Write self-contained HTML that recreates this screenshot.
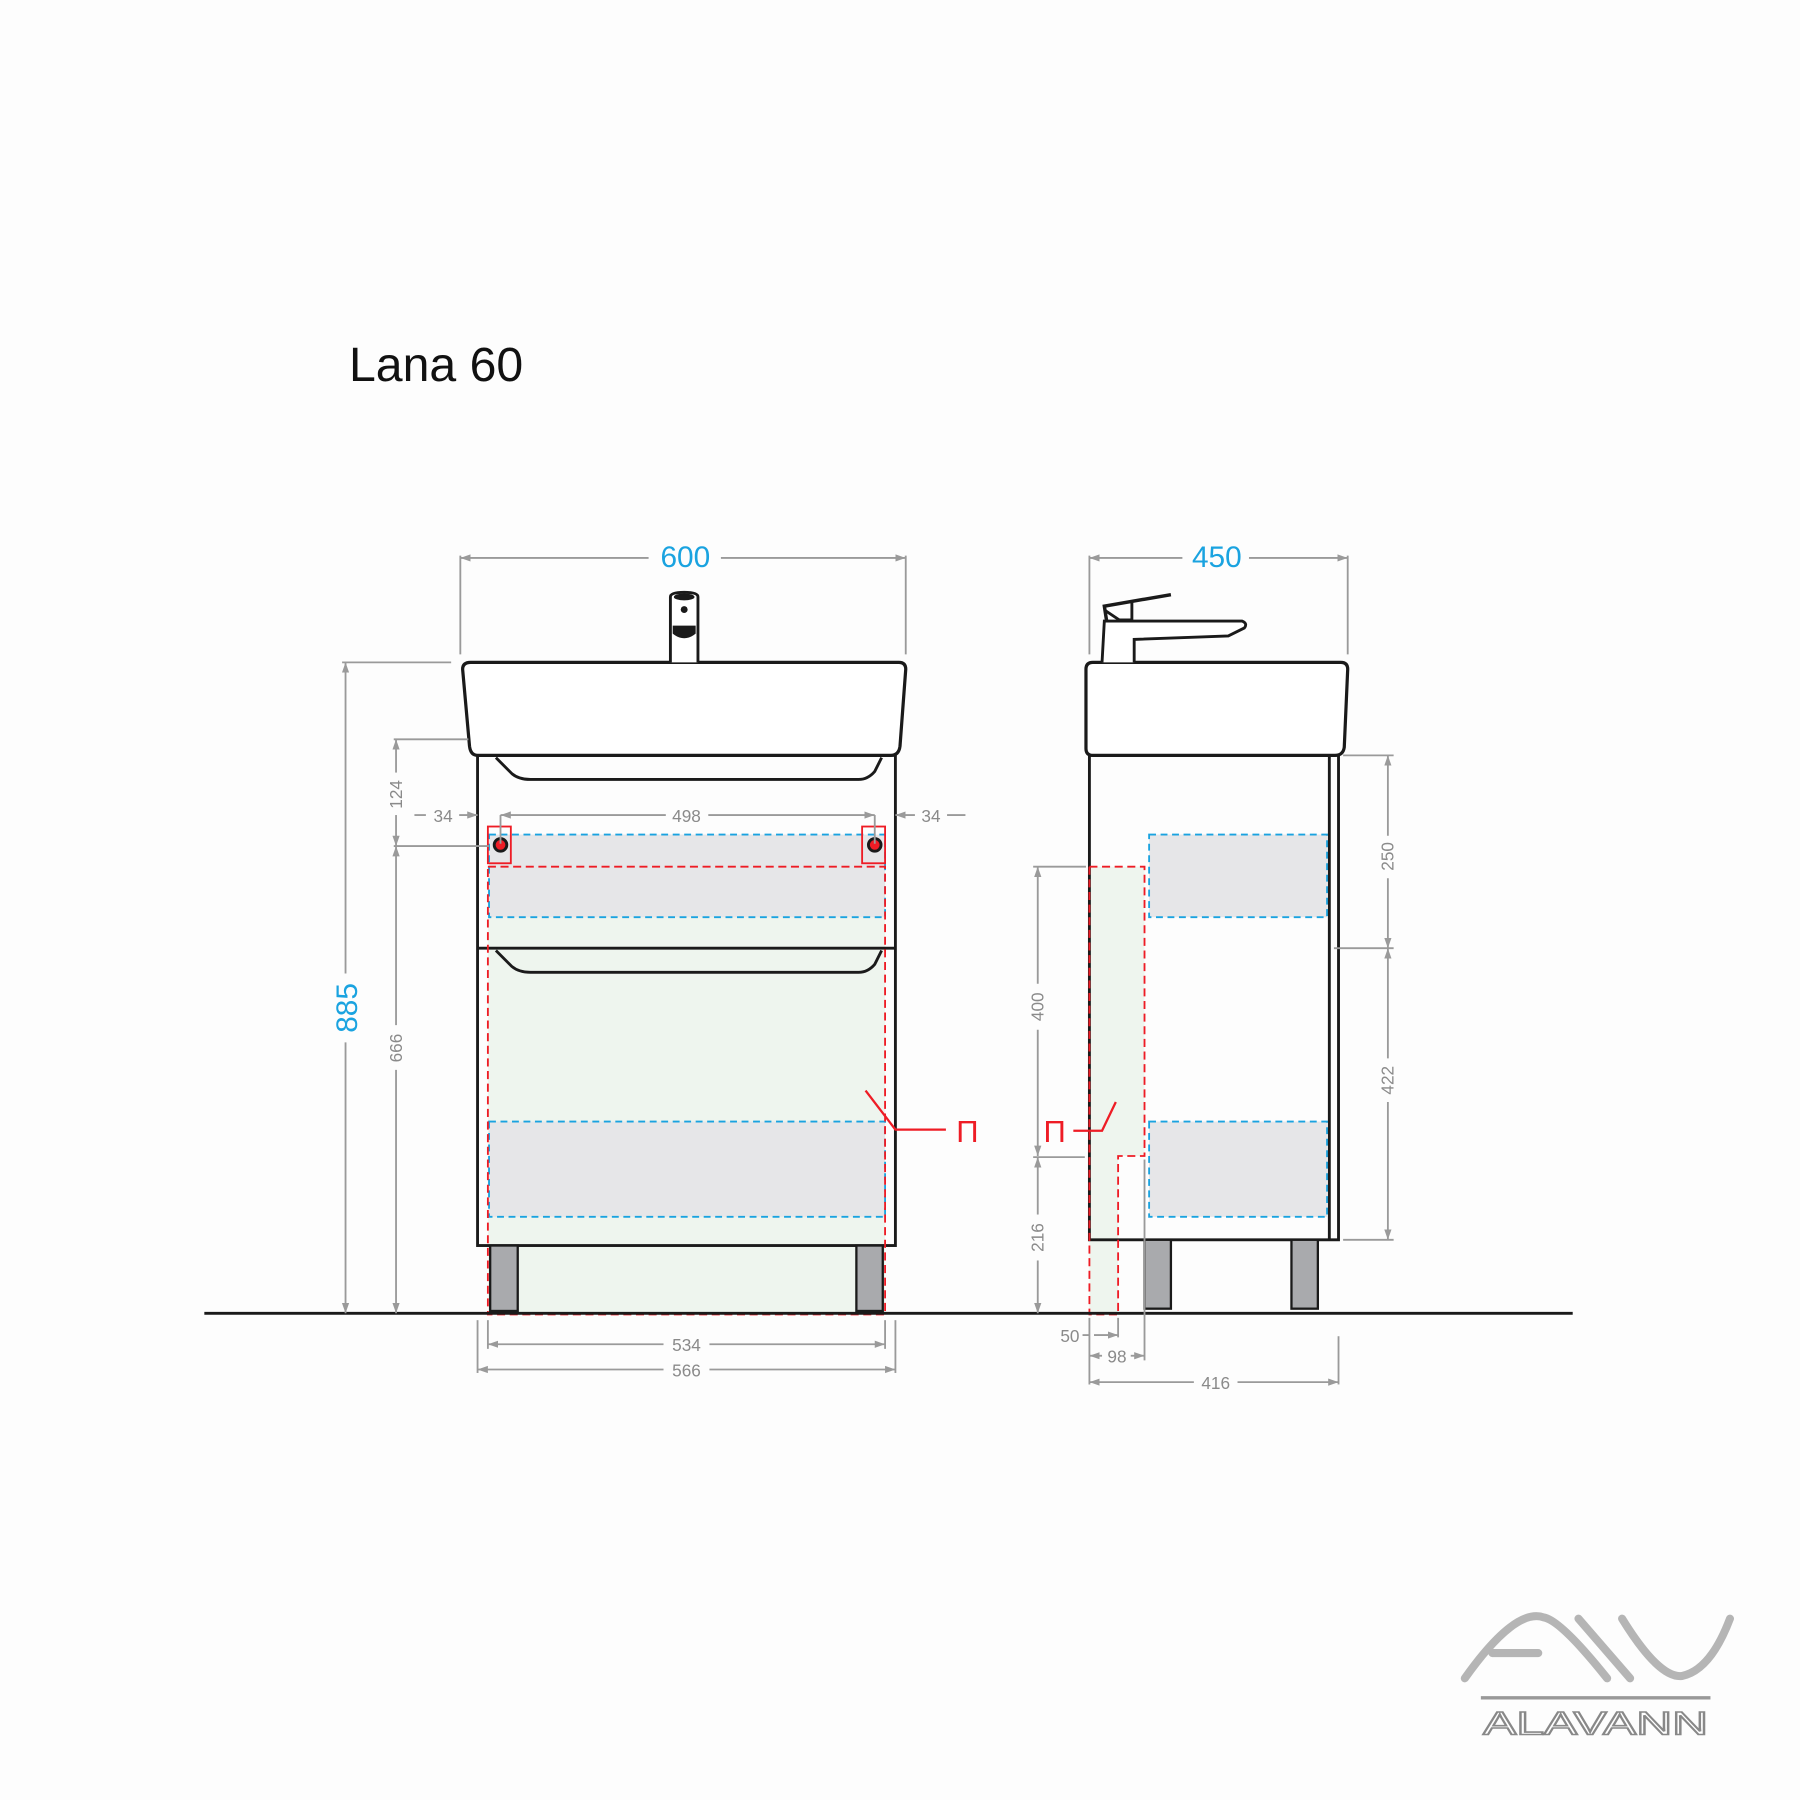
<!DOCTYPE html>
<html><head><meta charset="utf-8"><style>
html,body{margin:0;padding:0;background:#fdfdfd}
svg{display:block}
text{font-family:"Liberation Sans",sans-serif}
</style></head><body>
<svg width="1800" height="1800" viewBox="0 0 1568 1568" xmlns="http://www.w3.org/2000/svg">
<defs>
<marker id="a" viewBox="0 0 10 10" refX="10" refY="5" markerWidth="9" markerHeight="9" orient="auto-start-reverse" markerUnits="userSpaceOnUse"><path d="M0,1.5 L10,5 L0,8.5 z" fill="#9a9a9a"/></marker>
</defs>
<rect width="1568" height="1568" fill="#fdfdfd"/>
<text x="304" y="332" font-size="42" fill="#111">Lana 60</text>

<rect x="425" y="755" width="346" height="390" fill="#eef5ee"/>
<rect x="426" y="727" width="345" height="72" fill="#e6e6e8"/>
<rect x="426" y="977" width="345" height="83" fill="#e6e6e8"/>
<rect x="416" y="658" width="364" height="427" fill="none" stroke="#1a1a1a" stroke-width="2.5"/>
<line x1="416" y1="826" x2="780" y2="826" stroke="#1a1a1a" stroke-width="2.5"/>
<path d="M432,660 L446,674 Q452,679 462,679 L748,679 Q756,679 762,672 L768,660" fill="none" stroke="#1a1a1a" stroke-width="2.5"/>
<path d="M432,828 L446,842 Q452,847 462,847 L748,847 Q756,847 762,840 L768,828" fill="none" stroke="#1a1a1a" stroke-width="2.5"/>
<path d="M410,577 L783,577 Q789,577 789,583 L784,650 Q783,658 776,658 L416,658 Q410,658 409,650 L403,583 Q403,577 410,577 z" fill="#fff" stroke="#1a1a1a" stroke-width="2.8"/>
<path d="M584,577 L584,520 Q584,516 596,516 Q608,516 608,520 L608,577" fill="#fff" stroke="#1a1a1a" stroke-width="2.5"/>
<ellipse cx="596" cy="520" rx="9" ry="3" fill="#1a1a1a"/>
<circle cx="596" cy="531" r="3" fill="#1a1a1a"/>
<path d="M586,545 L606,545 L606,552 Q596,560 586,552 z" fill="#1a1a1a"/>
<rect x="427" y="1085" width="24" height="57" fill="#a9aaad" stroke="#1a1a1a" stroke-width="2"/>
<rect x="746" y="1085" width="23" height="57" fill="#a9aaad" stroke="#1a1a1a" stroke-width="2"/>
<g fill="none" stroke="#1aa3e0" stroke-width="1.6" stroke-dasharray="6,4">
<rect x="426" y="727" width="345" height="72"/>
<rect x="426" y="977" width="345" height="83"/>
</g>
<rect x="425" y="755" width="346" height="390" fill="none" stroke="#ee1c25" stroke-width="1.6" stroke-dasharray="7,4"/>
<rect x="425" y="720" width="20" height="32" fill="none" stroke="#ee1c25" stroke-width="1.6"/>
<rect x="751" y="720" width="20" height="32" fill="none" stroke="#ee1c25" stroke-width="1.6"/>
<circle cx="436" cy="736" r="5.5" fill="#ee1c25" stroke="#1a1a1a" stroke-width="2.5"/>
<circle cx="762" cy="736" r="5.5" fill="#ee1c25" stroke="#1a1a1a" stroke-width="2.5"/>
<path d="M754,950 L780,984 L824,984" fill="none" stroke="#ee1c25" stroke-width="2"/>
<text x="833" y="995" font-size="27" fill="#ee1c25">П</text>

<path d="M949,755 L997,755 L997,1007 L974,1007 L974,1145 L949,1145 z" fill="#eef5ee"/>
<rect x="1001" y="727" width="155" height="72" fill="#e6e6e8" stroke="#1aa3e0" stroke-width="1.6" stroke-dasharray="6,4"/>
<rect x="1001" y="977" width="155" height="83" fill="#e6e6e8" stroke="#1aa3e0" stroke-width="1.6" stroke-dasharray="6,4"/>
<rect x="949" y="658" width="217" height="422" fill="none" stroke="#1a1a1a" stroke-width="2.5"/>
<line x1="1158" y1="658" x2="1158" y2="1080" stroke="#1a1a1a" stroke-width="2.5"/>
<path d="M952,577 L1168,577 Q1174,577 1174,583 L1171,651 Q1170,658 1163,658 L952,658 Q946,658 946,652 L946,583 Q946,577 952,577 z" fill="#fff" stroke="#1a1a1a" stroke-width="2.8"/>
<path d="M960,577 L962,541 L1082,541 Q1087,543 1084,547 L1070,554 L988,557 L988,577" fill="#fff" stroke="#1a1a1a" stroke-width="2.5"/>
<path d="M964,541 L962,528 L1020,518" fill="none" stroke="#1a1a1a" stroke-width="3"/>
<path d="M963,532 L975,540 L986,540 L986,523" fill="none" stroke="#1a1a1a" stroke-width="2.5"/>
<rect x="997" y="1080" width="23" height="60" fill="#a9aaad" stroke="#1a1a1a" stroke-width="2"/>
<rect x="1125" y="1080" width="23" height="60" fill="#a9aaad" stroke="#1a1a1a" stroke-width="2"/>
<path d="M949,755 L997,755 L997,1007 L974,1007 L974,1145 M949,755 L949,1145 L974,1145" fill="none" stroke="#ee1c25" stroke-width="1.6" stroke-dasharray="7,4"/>
<path d="M972,960 L960,985 L935,985" fill="none" stroke="#ee1c25" stroke-width="2"/>
<text x="909" y="995" font-size="27" fill="#ee1c25">П</text>

<line x1="178" y1="1144" x2="1370" y2="1144" stroke="#1a1a1a" stroke-width="2.5"/>

<g stroke="#9a9a9a" stroke-width="1.6" fill="none">
<line x1="401" y1="484" x2="401" y2="570"/><line x1="789" y1="484" x2="789" y2="570"/>
<line x1="401" y1="486" x2="565" y2="486" marker-start="url(#a)"/><line x1="628" y1="486" x2="789" y2="486" marker-end="url(#a)"/>
<line x1="949" y1="484" x2="949" y2="570"/><line x1="1174" y1="484" x2="1174" y2="570"/>
<line x1="949" y1="486" x2="1030" y2="486" marker-start="url(#a)"/><line x1="1088" y1="486" x2="1174" y2="486" marker-end="url(#a)"/>
<line x1="298" y1="577" x2="393" y2="577"/>
<line x1="301" y1="577" x2="301" y2="848" marker-start="url(#a)"/><line x1="301" y1="908" x2="301" y2="1144" marker-end="url(#a)"/>
<line x1="343" y1="644" x2="408" y2="644"/>
<line x1="345" y1="644" x2="345" y2="673" marker-start="url(#a)"/><line x1="345" y1="710" x2="345" y2="737" marker-end="url(#a)"/>
<line x1="343" y1="737" x2="426" y2="737"/>
<line x1="345" y1="737" x2="345" y2="893" marker-start="url(#a)"/><line x1="345" y1="932" x2="345" y2="1144" marker-end="url(#a)"/>
<line x1="361" y1="710" x2="371" y2="710"/><line x1="400" y1="710" x2="416" y2="710" marker-end="url(#a)"/>
<line x1="436" y1="710" x2="580" y2="710" marker-start="url(#a)"/><line x1="617" y1="710" x2="762" y2="710" marker-end="url(#a)"/>
<line x1="436" y1="710" x2="436" y2="735"/><line x1="762" y1="710" x2="762" y2="735"/>
<line x1="780" y1="710" x2="797" y2="710" marker-start="url(#a)"/><line x1="825" y1="710" x2="841" y2="710"/>
<line x1="425" y1="1150" x2="425" y2="1175"/><line x1="771" y1="1150" x2="771" y2="1175"/>
<line x1="416" y1="1150" x2="416" y2="1196"/><line x1="780" y1="1150" x2="780" y2="1196"/>
<line x1="425" y1="1171" x2="578" y2="1171" marker-start="url(#a)"/><line x1="618" y1="1171" x2="771" y2="1171" marker-end="url(#a)"/>
<line x1="416" y1="1193" x2="578" y2="1193" marker-start="url(#a)"/><line x1="618" y1="1193" x2="780" y2="1193" marker-end="url(#a)"/>
<line x1="900" y1="755" x2="946" y2="755"/>
<line x1="904" y1="755" x2="904" y2="857" marker-start="url(#a)"/><line x1="904" y1="897" x2="904" y2="1007" marker-end="url(#a)"/>
<line x1="900" y1="1008" x2="945" y2="1008"/>
<line x1="904" y1="1008" x2="904" y2="1058" marker-start="url(#a)"/><line x1="904" y1="1098" x2="904" y2="1144" marker-end="url(#a)"/>
<line x1="1170" y1="658" x2="1214" y2="658"/><line x1="1162" y1="826" x2="1214" y2="826"/><line x1="1170" y1="1080" x2="1214" y2="1080"/>
<line x1="1209" y1="658" x2="1209" y2="728" marker-start="url(#a)"/><line x1="1209" y1="765" x2="1209" y2="826" marker-end="url(#a)"/>
<line x1="1209" y1="826" x2="1209" y2="922" marker-start="url(#a)"/><line x1="1209" y1="960" x2="1209" y2="1080" marker-end="url(#a)"/>
<line x1="949" y1="1148" x2="949" y2="1206"/><line x1="974" y1="1148" x2="974" y2="1165"/>
<line x1="997" y1="1010" x2="997" y2="1185"/><line x1="1166" y1="1164" x2="1166" y2="1206"/>
<line x1="943" y1="1163" x2="949" y2="1163"/><line x1="953" y1="1163" x2="974" y2="1163" marker-end="url(#a)"/>
<line x1="949" y1="1181" x2="960" y2="1181" marker-start="url(#a)"/><line x1="985" y1="1181" x2="997" y2="1181" marker-end="url(#a)"/>
<line x1="949" y1="1204" x2="1040" y2="1204" marker-start="url(#a)"/><line x1="1078" y1="1204" x2="1166" y2="1204" marker-end="url(#a)"/>
</g>
<g fill="#8a8a8a" font-size="15">
<text x="598" y="716" text-anchor="middle">498</text>
<text x="386" y="716" text-anchor="middle">34</text>
<text x="811" y="716" text-anchor="middle">34</text>
<text x="598" y="1177" text-anchor="middle">534</text>
<text x="598" y="1199" text-anchor="middle">566</text>
<text x="932" y="1169" text-anchor="middle">50</text>
<text x="973" y="1187" text-anchor="middle">98</text>
<text x="1059" y="1210" text-anchor="middle">416</text>
<text transform="translate(350,692) rotate(-90)" text-anchor="middle">124</text>
<text transform="translate(350,913) rotate(-90)" text-anchor="middle">666</text>
<text transform="translate(909,877) rotate(-90)" text-anchor="middle">400</text>
<text transform="translate(909,1078) rotate(-90)" text-anchor="middle">216</text>
<text transform="translate(1214,746) rotate(-90)" text-anchor="middle">250</text>
<text transform="translate(1214,941) rotate(-90)" text-anchor="middle">422</text>
</g>
<g fill="#1aa3e0" font-size="26">
<text x="597" y="494" text-anchor="middle">600</text>
<text x="1060" y="494" text-anchor="middle">450</text>
<text transform="translate(311,878) rotate(-90)" text-anchor="middle">885</text>
</g>

<g fill="none" stroke="#b5b5b5" stroke-width="7" stroke-linecap="round">
<path d="M1276,1462 Q1320,1400 1345,1409 Q1360,1412 1400,1462"/>
<path d="M1300,1440 L1340,1440"/>
<path d="M1375,1410 L1420,1462"/>
<path d="M1413,1410 Q1445,1462 1465,1460 Q1490,1455 1507,1410"/>
</g>
<line x1="1290" y1="1479" x2="1490" y2="1479" stroke="#999" stroke-width="3"/>
<text x="1292" y="1511" font-size="28" textLength="196" lengthAdjust="spacingAndGlyphs" fill="#fff" stroke="#888" stroke-width="1.4">ALAVANN</text>
</svg>
</body></html>
